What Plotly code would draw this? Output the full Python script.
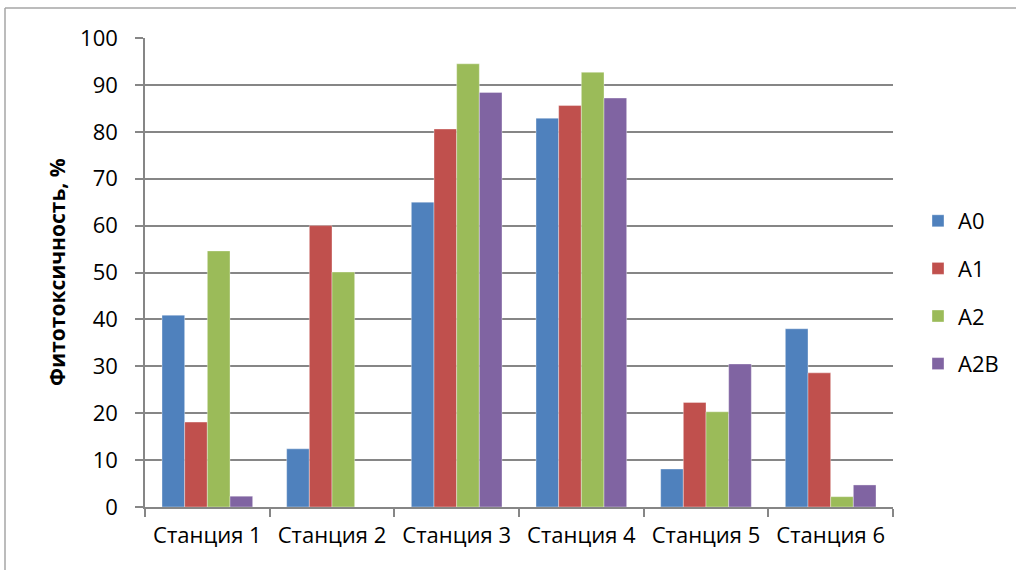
import plotly.graph_objects as go

# Phytotoxicity by sampling station and sample variant
stations = ["Станция 1", "Станция 2", "Станция 3", "Станция 4", "Станция 5", "Станция 6"]
a0 = [40.9, 12.4, 65.0, 82.9, 8.1, 38.0]
a1 = [18.1, 60.0, 80.6, 85.6, 22.3, 28.6]
a2 = [54.6, 50.1, 94.5, 92.7, 20.3, 2.2]
a2b = [2.3, None, 88.4, 87.2, 30.5, 4.7]

series = [
    ("A0", a0, "#4F81BD"),
    ("A1", a1, "#C0504D"),
    ("A2", a2, "#9BBB59"),
    ("A2B", a2b, "#8064A2"),
]

W, H = 1016, 570
X0, X1 = 145, 893      # plot area, pixels from left
Y0, Y1 = 38, 507       # plot area, pixels from top
FONT = "'Open Sans', Lato, sans-serif"
GRID = "#868686"

fig = go.Figure()
for name, vals, col in series:
    fig.add_trace(go.Bar(
        x=stations, y=vals, name=name, legendgroup=name,
        marker=dict(color=col, line=dict(color="rgba(255,255,255,0.6)", width=0.6)),
    ))

fig.update_layout(
    template="none",
    width=W, height=H,
    margin=dict(l=0, r=0, t=0, b=0, pad=0),
    paper_bgcolor="white", plot_bgcolor="white",
    barmode="group", bargap=1.5 / 5.5, bargroupgap=0,
    font=dict(family=FONT, size=22, color="black"),
    xaxis=dict(
        domain=[X0 / W, X1 / W], automargin=False,
        showline=True, linecolor=GRID, linewidth=1.5,
        ticks="outside", ticklen=8, tickcolor=GRID, tickwidth=1.5,
        tickson="boundaries", showgrid=False, zeroline=False,
        ticklabelstandoff=8,
    ),
    yaxis=dict(
        domain=[(H - Y1) / H, (H - Y0) / H], automargin=False,
        range=[0, 100], dtick=10, autorange=False,
        showline=True, linecolor=GRID, linewidth=1.5,
        ticks="outside", ticklen=8, tickcolor=GRID, tickwidth=1.5,
        showgrid=True, gridcolor=GRID, gridwidth=1.5,
        zeroline=False, ticklabelstandoff=13,
    ),
    legend=dict(
        x=918 / W, y=1 - 200 / H, xanchor="left", yanchor="top",
        font=dict(size=22), tracegroupgap=16, traceorder="grouped",
        bgcolor="rgba(0,0,0,0)", borderwidth=0,
    ),
    showlegend=True,
)

fig.add_annotation(
    text="<b>Фитотоксичность, %</b>", textangle=-90,
    xref="paper", yref="paper", x=57 / W, y=1 - 272 / H,
    showarrow=False, font=dict(size=21), xanchor="center", yanchor="middle",
)

# chart frame
fig.add_shape(type="line", xref="paper", yref="paper",
              x0=5 / W, x1=1.0, y0=1 - 8 / H, y1=1 - 8 / H,
              line=dict(color="#A6A6A6", width=1.5))
fig.add_shape(type="line", xref="paper", yref="paper",
              x0=5 / W, x1=5 / W, y0=0, y1=1 - 8 / H,
              line=dict(color="#A6A6A6", width=1.5))

fig.write_html("out.html")
